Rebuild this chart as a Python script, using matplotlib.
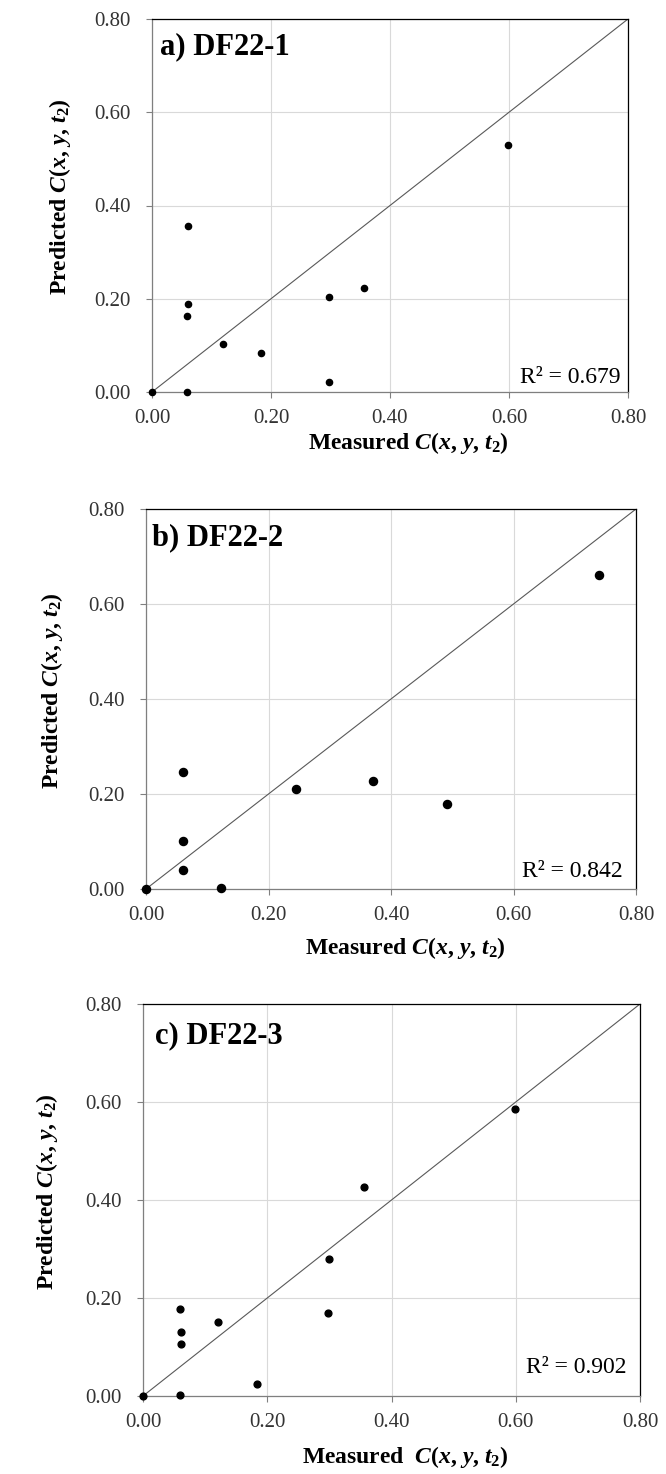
import numpy as np
import matplotlib
matplotlib.use("Agg")
import matplotlib.pyplot as plt

plt.rcParams['font.family'] = ['Liberation Serif', 'DejaVu Serif']
plt.rcParams['mathtext.fontset'] = 'custom'
plt.rcParams['mathtext.rm'] = 'Liberation Serif:bold'
plt.rcParams['mathtext.it'] = 'Liberation Serif:bold:italic'

# panel data
titles = ["a) DF22-1", "b) DF22-2", "c) DF22-3"]
r2_labels = ["R² = 0.679", "R² = 0.842", "R² = 0.902"]

a_meas = [0.0, 0.060, 0.060, 0.058, 0.058, 0.119, 0.183, 0.297, 0.298, 0.356, 0.599]
a_pred = [0.0, 0.357, 0.189, 0.164, 0.000, 0.104, 0.084, 0.021, 0.204, 0.223, 0.530]

b_meas = [0.0, 0.061, 0.061, 0.061, 0.123, 0.245, 0.370, 0.492, 0.739]
b_pred = [0.0, 0.247, 0.102, 0.039, 0.003, 0.211, 0.228, 0.180, 0.662]

c_meas = [0.0, 0.059, 0.061, 0.061, 0.059, 0.120, 0.183, 0.300, 0.297, 0.356, 0.599]
c_pred = [0.0, 0.177, 0.130, 0.107, 0.003, 0.151, 0.025, 0.279, 0.170, 0.427, 0.586]

ticks = [0.0, 0.2, 0.4, 0.6, 0.8]
tick_labels = ["0.00", "0.20", "0.40", "0.60", "0.80"]

W, H = 666, 1474
fig = plt.figure(figsize=(W / 100, H / 100), dpi=100)

# plot boxes in pixels: left, top, right, bottom
boxes = [(152, 19, 628, 392), (146, 509, 636, 889), (143, 1004, 640, 1396)]
msizes = [20, 34, 24]
ylab_pos = [(60, 197), (52, 691), (47, 1192)]
xlab_pos = [(408, 449), (405, 954), (405, 1463)]
ylab_text = r"Predicted $C$($x$, $y$, $t_2$)"
xlab_text = [r"Measured $C$($x$, $y$, $t_2$)", r"Measured $C$($x$, $y$, $t_2$)",
             r"Measured  $C$($x$, $y$, $t_2$)"]
title_off = [(8, 35), (6, 36), (12, 39)]
r2_off = [(7, 9), (13, 12), (14, 23)]

data = [(a_meas, a_pred), (b_meas, b_pred), (c_meas, c_pred)]

for i, (l, t, r, b) in enumerate(boxes):
    ax = fig.add_axes([l / W, 1 - b / H, (r - l) / W, (b - t) / H])
    ax.set_xlim(0, 0.8)
    ax.set_ylim(0, 0.8)
    ax.set_xticks(ticks)
    ax.set_yticks(ticks)
    ax.set_xticklabels(tick_labels)
    ax.set_yticklabels(tick_labels)
    ax.grid(True, color="#d9d9d9", lw=0.8)
    ax.set_axisbelow(True)
    ax.tick_params(direction="out", length=4.3, width=0.8, color="#808080",
                   labelsize=15, labelcolor="#333333")
    ax.tick_params(axis="y", pad=11)
    ax.tick_params(axis="x", pad=8)
    for s in ["top", "right"]:
        ax.spines[s].set_color("#000000")
        ax.spines[s].set_linewidth(0.9)
    for s in ["left", "bottom"]:
        ax.spines[s].set_color("#7f7f7f")
        ax.spines[s].set_linewidth(0.9)

    ax.plot([0, 0.8], [0, 0.8], color="#595959", lw=0.8, zorder=2)
    xs, ys = data[i]
    ax.scatter(xs, ys, s=msizes[i], color="black", zorder=3, clip_on=False)

    ax.annotate(titles[i], xy=(0, 1), xycoords="axes fraction",
                xytext=(title_off[i][0] * 0.72, -title_off[i][1] * 0.72),
                textcoords="offset points", ha="left", va="baseline",
                fontsize=22, fontweight="bold")
    ax.annotate(r2_labels[i], xy=(1, 0), xycoords="axes fraction",
                xytext=(-r2_off[i][0] * 0.72, r2_off[i][1] * 0.72),
                textcoords="offset points", ha="right", va="baseline",
                fontsize=17)

    fig.text(ylab_pos[i][0] / W, 1 - ylab_pos[i][1] / H, ylab_text,
             rotation=90, ha="center", va="center", fontsize=17,
             fontweight="bold")
    fig.text(xlab_pos[i][0] / W, 1 - xlab_pos[i][1] / H, xlab_text[i],
             ha="center", va="baseline", fontsize=17, fontweight="bold")

fig.savefig("out.png", dpi=100)
